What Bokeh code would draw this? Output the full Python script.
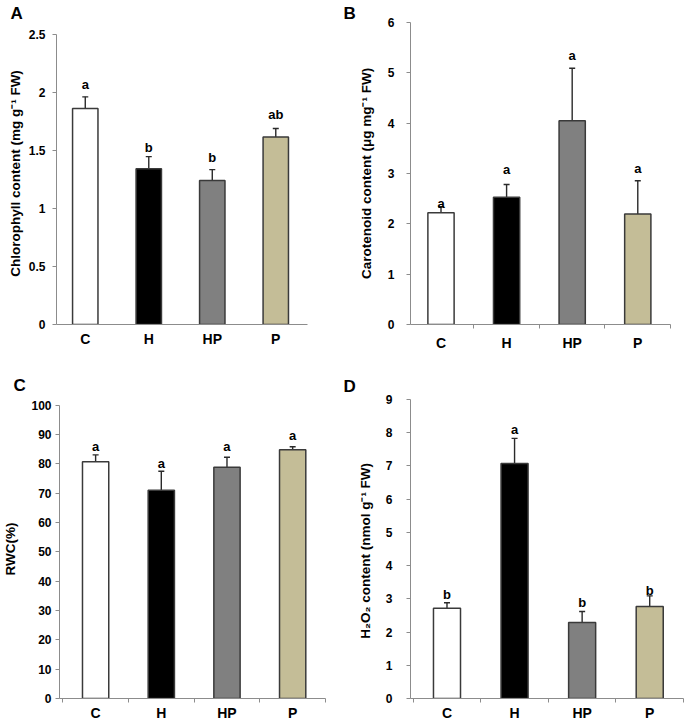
import numpy as np
from bokeh.plotting import figure
from bokeh.models import (ColumnDataSource, Range1d, FixedTicker, Whisker, TeeHead,
                          Title, NumeralTickFormatter)
from bokeh.layouts import row, column
from bokeh.core.properties import value
from bokeh.embed import file_html
from bokeh.resources import INLINE

# ---------------- data ----------------
categories = ["C", "H", "HP", "P"]
bar_colors = ["#ffffff", "#000000", "#808080", "#c4bd97"]

chl_mean = [1.86, 1.34, 1.24, 1.615]
chl_err = [0.10, 0.105, 0.093, 0.072]
chl_letters = ["a", "b", "b", "ab"]
chl_letter_y = [2.07, 1.52, 1.44, 1.81]
chl_ticks = [0, 0.5, 1, 1.5, 2, 2.5]

car_mean = [2.22, 2.53, 4.05, 2.195]
car_err = [0.12, 0.25, 1.04, 0.66]
car_letters = ["a", "a", "a", "a"]
car_letter_y = [2.41, 3.07, 5.35, 3.09]
car_ticks = [0, 1, 2, 3, 4, 5, 6]

rwc_mean = [80.8, 71.0, 78.9, 84.9]
rwc_err = [2.3, 6.5, 3.4, 1.0]
rwc_letters = ["a", "a", "a", "a"]
rwc_letter_y = [86.0, 80.1, 86.0, 89.6]
rwc_ticks = [0, 10, 20, 30, 40, 50, 60, 70, 80, 90, 100]

h2o2_mean = [2.72, 7.07, 2.29, 2.77]
h2o2_err = [0.16, 0.76, 0.33, 0.32]
h2o2_letters = ["b", "a", "b", "b"]
h2o2_letter_y = [3.14, 8.10, 2.89, 3.26]
h2o2_ticks = [0, 1, 2, 3, 4, 5, 6, 7, 8, 9]

FONT = "Liberation Sans"
AXIS_GRAY = "#8c8c8c"
EDGE = "#3a3a3a"


def make_panel(tag, means, errs, letters, letter_y, yticks, ylabel,
               width, height, borders, xr, y_end, show_xticks,
               tag_offset, tag_standoff,
               ytick_standoff, ylabel_standoff, xlabel_standoff, fmt):
    n = len(categories)
    centers = [i + 0.5 for i in range(n)]
    bounds = [float(i) for i in range(n + 1)]
    p = figure(width=width, height=height, output_backend="svg",
               toolbar_location=None,
               x_range=Range1d(xr[0], xr[1]), y_range=Range1d(yticks[0], y_end),
               min_border_left=borders[0], min_border_right=borders[1],
               min_border_top=borders[2], min_border_bottom=borders[3])
    p.outline_line_color = None
    p.grid.visible = False
    p.background_fill_color = "white"
    p.border_fill_color = "white"

    p.title = Title(text=tag, align="left", offset=tag_offset,
                    standoff=tag_standoff, text_font=FONT,
                    text_font_style="bold", text_font_size="17px",
                    text_color="black")

    src = ColumnDataSource(dict(
        x=centers, top=means, color=bar_colors,
        upper=[m + e for m, e in zip(means, errs)],
        letter=letters, ly=letter_y))

    p.vbar(x="x", top="top", bottom=0, width=0.4, fill_color="color",
           line_color=EDGE, line_width=1.5, source=src)

    wh = Whisker(source=src, base="x", lower="top", upper="upper",
                 dimension="height", line_color="#2a2a2a", line_width=1.4,
                 upper_head=TeeHead(size=6, line_color="#2a2a2a", line_width=1.4),
                 lower_head=None)
    p.add_layout(wh)

    p.text(x="x", y="ly", text="letter", source=src,
           text_font=value(FONT), text_font_style="bold",
           text_font_size="13px", text_align="center",
           text_baseline="alphabetic", text_color="black")

    # x axis
    xa = p.xaxis[0]
    xa.ticker = FixedTicker(ticks=centers, minor_ticks=bounds if show_xticks else [])
    xa.major_label_overrides = {c: lab for c, lab in zip(centers, categories)}
    xa.bounds = (xr[0], n)
    xa.major_tick_in = 0
    xa.major_tick_out = 0
    xa.minor_tick_in = 0
    xa.minor_tick_out = 4 if show_xticks else 0
    xa.minor_tick_line_color = AXIS_GRAY
    xa.axis_line_color = AXIS_GRAY
    xa.major_label_text_font = FONT
    xa.major_label_text_font_style = "bold"
    xa.major_label_text_font_size = "14px"
    xa.major_label_text_color = "black"
    xa.major_label_standoff = xlabel_standoff

    # y axis
    ya = p.yaxis[0]
    ya.ticker = FixedTicker(ticks=yticks)
    ya.formatter = NumeralTickFormatter(format=fmt)
    ya.bounds = (yticks[0], yticks[-1])
    ya.major_tick_in = 0
    ya.major_tick_out = 4
    ya.minor_tick_out = 0
    ya.minor_tick_in = 0
    ya.major_tick_line_color = AXIS_GRAY
    ya.axis_line_color = AXIS_GRAY
    ya.major_label_text_font = FONT
    ya.major_label_text_font_style = "bold"
    ya.major_label_text_font_size = "12px"
    ya.major_label_text_color = "black"
    ya.major_label_standoff = ytick_standoff
    ya.axis_label = ylabel
    ya.axis_label_text_font = FONT
    ya.axis_label_text_font_style = "bold"
    ya.axis_label_text_font_size = "13.5px"
    ya.axis_label_text_color = "black"
    ya.axis_label_standoff = ylabel_standoff
    return p


# frames of plots in the same row / column get aligned, so the borders
# are shared and the per-panel offsets are carried by the ranges
pA = make_panel("A", chl_mean, chl_err, chl_letters, chl_letter_y, chl_ticks,
                "Chlorophyll content (mg g\u207b\u00b9 FW)",
                340, 360, (56, 15, 22, 36), (0.047, 4.283), 2.6, False, -46, 0,
                7, 3, 6, "0.[0]")
pB = make_panel("B", car_mean, car_err, car_letters, car_letter_y, car_ticks,
                "Carotenoid content (\u03bcg mg\u207b\u00b9 FW)",
                345, 360, (70, 2, 22, 36), (0.035, 4.197), 6, True, -67, 0,
                12, 11, 6, "0")
pC = make_panel("C", rwc_mean, rwc_err, rwc_letters, rwc_letter_y, rwc_ticks,
                "RWC(%)",
                340, 364, (56, 15, 39, 26), (-0.05, 4.0), 102, True, -46, 10,
                4, 10, 2, "0")
pD = make_panel("D", h2o2_mean, h2o2_err, h2o2_letters, h2o2_letter_y, h2o2_ticks,
                "H\u2082O\u2082  content (nmol g\u207b\u00b9 FW)",
                345, 364, (70, 2, 39, 26), (-0.04, 4.0), 9, True, -67, 7,
                14, 10, 2, "0")

layout = column(row(pA, pB), row(pC, pD))
open("out.html", "w").write(file_html(layout, INLINE))
